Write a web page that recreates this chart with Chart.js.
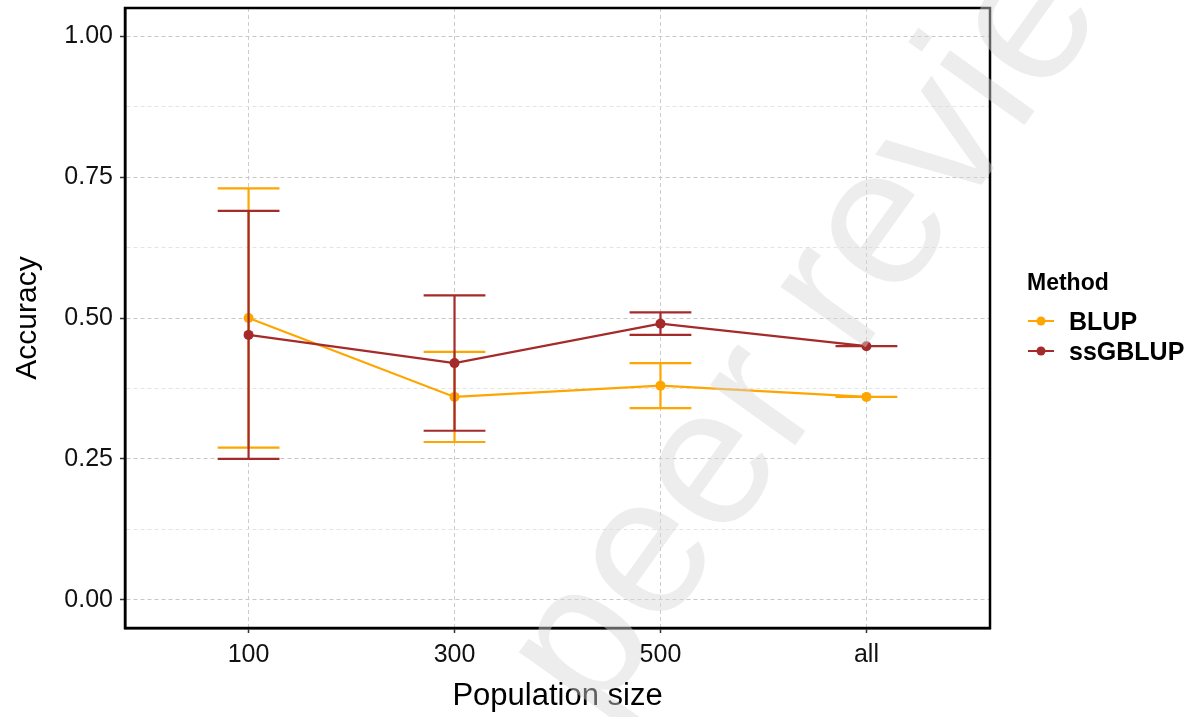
<!DOCTYPE html>
<html>
<head>
<meta charset="utf-8">
<script src="https://cdn.jsdelivr.net/npm/chart.js@4"></script>
<style>
  body { margin: 0; background: #fff; }
  #wrap { width: 1197px; height: 717px; }
</style>
</head>
<body>
<div id="wrap"><canvas id="myChart" width="1197" height="717"></canvas></div>
<script>
const categories = ['100', '300', '500', 'all']
const methods = ['BLUP', 'ssGBLUP']
const blupMean = [0.50, 0.36, 0.38, 0.36]
const blupLow = [0.27, 0.28, 0.34, 0.36]
const blupHigh = [0.73, 0.44, 0.42, 0.36]
const ssgMean = [0.47, 0.42, 0.49, 0.45]
const ssgLow = [0.25, 0.30, 0.47, 0.45]
const ssgHigh = [0.69, 0.54, 0.51, 0.45]
const yTicks = [0, 0.125, 0.25, 0.375, 0.5, 0.625, 0.75, 0.875, 1]

const FONT = 'Liberation Sans, Arial, sans-serif'
const isMajor = v => Math.abs(v * 4 - Math.round(v * 4)) < 1e-9

function series(label, mean, low, high, color, order) {
  return {
    label: label,
    data: mean.map((v, i) => ({ x: i, y: v })),
    errLow: low,
    errHigh: high,
    borderColor: color,
    backgroundColor: color,
    borderWidth: 2.2,
    pointRadius: 5,
    pointHoverRadius: 5,
    pointBorderWidth: 0,
    pointBackgroundColor: color,
    tension: 0,
    order: order
  }
}

// error bars drawn right after their own line so ssGBLUP sits on top
const errorBars = {
  id: 'errorBars',
  afterDatasetDraw(chart, args) {
    const ds = chart.data.datasets[args.index]
    const xs = chart.scales.x
    const ys = chart.scales.y
    const ctx = chart.ctx
    ctx.save()
    ctx.strokeStyle = ds.borderColor
    ctx.lineWidth = 2.2
    ds.data.forEach((p, i) => {
      const x = xs.getPixelForValue(p.x)
      const xa = xs.getPixelForValue(p.x - 0.15)
      const xb = xs.getPixelForValue(p.x + 0.15)
      const lo = ys.getPixelForValue(ds.errLow[i])
      const hi = ys.getPixelForValue(ds.errHigh[i])
      ctx.beginPath()
      ctx.moveTo(x, lo); ctx.lineTo(x, hi)
      ctx.moveTo(xa, lo); ctx.lineTo(xb, lo)
      ctx.moveTo(xa, hi); ctx.lineTo(xb, hi)
      ctx.stroke()
    })
    ctx.restore()
  }
}

const frameLegend = {
  id: 'frameLegend',
  afterDraw(chart) {
    const ctx = chart.ctx
    const a = chart.chartArea
    ctx.save()
    ctx.strokeStyle = '#000'
    ctx.lineWidth = 2.5
    ctx.strokeRect(a.left, a.top, a.right - a.left, a.bottom - a.top)

    // legend
    ctx.fillStyle = '#000'
    ctx.font = 'bold 23px ' + FONT
    ctx.textAlign = 'left'
    ctx.textBaseline = 'alphabetic'
    ctx.fillText('Method', 1027, 290)
    const rows = [chart.data.datasets[0], chart.data.datasets[1]]
    rows.forEach((ds, k) => {
      const cy = 321 + k * 30
      ctx.strokeStyle = ds.borderColor
      ctx.lineWidth = 2
      ctx.beginPath()
      ctx.moveTo(1028, cy); ctx.lineTo(1054, cy)
      ctx.stroke()
      ctx.fillStyle = ds.borderColor
      ctx.beginPath()
      ctx.arc(1041, cy, 4.5, 0, Math.PI * 2)
      ctx.fill()
      ctx.fillStyle = '#000'
      ctx.font = 'bold 25px ' + FONT
      ctx.fillText(ds.label, 1069, cy + 8.5)
    })

    // watermark
    const F = 197
    ctx.translate(650, 560)
    ctx.rotate(-54.4 * Math.PI / 180)
    ctx.font = F + 'px ' + FONT
    ctx.fillStyle = 'rgba(215,215,215,0.45)'
    ctx.fillText('peer reviewed', -0.834 * F, 0.26 * F)
    ctx.restore()
  }
}

const ctx = document.getElementById('myChart')

new Chart(ctx, {
  type: 'line',
  data: {
    datasets: [
      series(methods[0], blupMean, blupLow, blupHigh, '#FFA500', 2),
      series(methods[1], ssgMean, ssgLow, ssgHigh, '#A52A2A', 1)
    ]
  },
  options: {
    responsive: false,
    animation: false,
    events: [],
    layout: { padding: { left: 0, right: 207, top: 8, bottom: 0 } },
    plugins: {
      legend: { display: false },
      tooltip: { enabled: false }
    },
    scales: {
      x: {
        type: 'linear',
        min: -0.6,
        max: 3.6,
        afterBuildTicks: axis => { axis.ticks = categories.map((c, i) => ({ value: i })) },
        afterFit: scale => {
          scale.height = 89
          scale.paddingLeft = 0
          scale.paddingRight = 0
        },
        ticks: {
          callback: v => categories[v],
          font: { family: FONT, size: 25 },
          color: '#111',
          padding: 7,
          maxRotation: 0
        },
        grid: {
          color: '#cccccc',
          lineWidth: 1,
          tickLength: 5,
          tickColor: '#333',
          tickWidth: 1.5
        },
        border: { display: true, color: '#000', width: 2.5, dash: [4, 3] },
        title: {
          display: true,
          text: 'Population size',
          font: { family: FONT, size: 31 },
          color: '#000',
          padding: { top: 0, bottom: 2 }
        }
      },
      y: {
        type: 'linear',
        min: -0.05,
        max: 1.05,
        afterBuildTicks: axis => { axis.ticks = yTicks.map(v => ({ value: v })) },
        afterFit: scale => {
          scale.width = 125
          scale.paddingTop = 0
          scale.paddingBottom = 0
        },
        ticks: {
          callback: v => isMajor(v) ? v.toFixed(2) : '',
          font: { family: FONT, size: 25 },
          color: '#111',
          padding: 7
        },
        grid: {
          color: c => isMajor(c.tick.value) ? '#c8c8c8' : '#e4e4e4',
          lineWidth: 1,
          tickLength: 5,
          tickColor: c => isMajor(c.tick.value) ? '#333' : 'rgba(0,0,0,0)',
          tickWidth: 1.5
        },
        border: { display: true, color: '#000', width: 2.5, dash: [4, 3] },
        title: {
          display: true,
          text: 'Accuracy',
          font: { family: FONT, size: 30 },
          color: '#000',
          padding: { top: 10, bottom: 0 }
        }
      }
    }
  },
  plugins: [errorBars, frameLegend]
})
</script>
</body>
</html>
